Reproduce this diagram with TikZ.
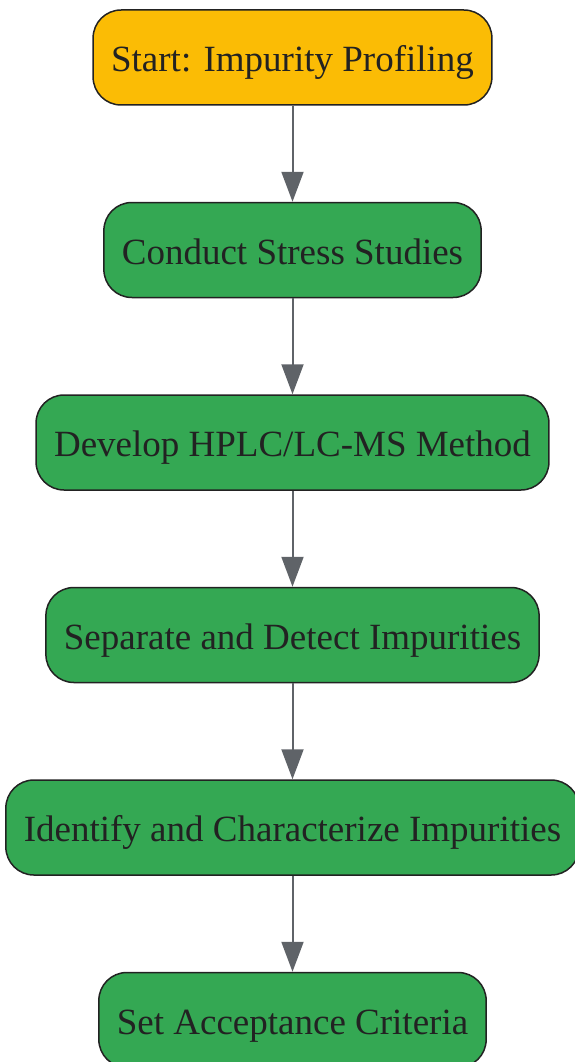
\documentclass[tikz,border=0pt]{standalone}
\usepackage{fontspec}
\setmainfont{Liberation Serif}
\usetikzlibrary{positioning}
\usetikzlibrary{arrows.meta}

\definecolor{startyellow}{HTML}{FBBC05}
\definecolor{stepgreen}{HTML}{34A853}
\definecolor{edgegray}{HTML}{5F6368}
\definecolor{inkdark}{HTML}{222222}

\begin{document}
\begin{tikzpicture}[font=\fontsize{37}{42}\selectfont, node distance=96pt,
  every node/.style={draw=inkdark, line width=1.5pt, text=inkdark, rounded corners=28pt,
    minimum height=95pt, inner xsep=18pt, inner ysep=0pt, text height=28pt, text depth=0pt},
  startbox/.style={fill=startyellow},
  stagebox/.style={fill=stepgreen},
  flow/.style={draw=edgegray, line width=2pt, -{Triangle[length=30pt,width=22pt]}}]
      \useasboundingbox (0,0) rectangle (575pt,-1062pt);

      \node[startbox] (start) at (292.5pt,-57.5pt) {Start: Impurity Profiling};
      \node[stagebox, below=of start] (stress) {Conduct Stress Studies};
      \node[stagebox, below=of stress] (method) {Develop HPLC/LC-MS Method};
      \node[stagebox, below=of method] (separate) {Separate and Detect Impurities};
      \node[stagebox, below=of separate] (identify) {Identify and Characterize Impurities};
      \node[stagebox, below=of identify] (criteria) {Set Acceptance Criteria};

      \draw[flow] (start) -- (stress);
      \draw[flow] (stress) -- (method);
      \draw[flow] (method) -- (separate);
      \draw[flow] (separate) -- (identify);
      \draw[flow] (identify) -- (criteria);
    \end{tikzpicture}
\end{document}
